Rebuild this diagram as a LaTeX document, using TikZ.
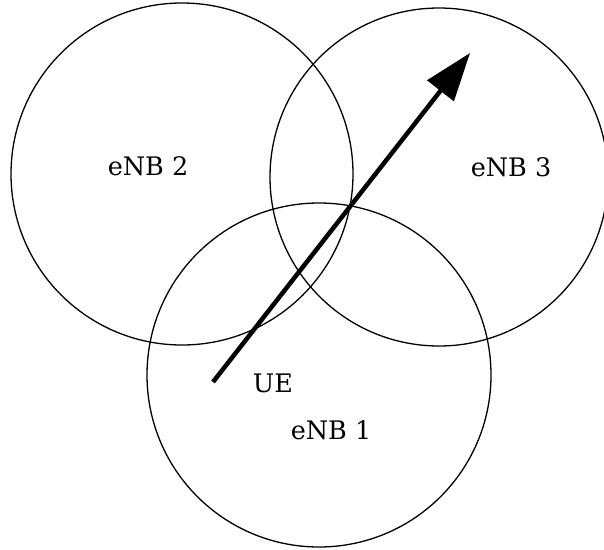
\documentclass[tikz,border=0pt]{standalone}
\usepackage{fontspec}
\setmainfont{DejaVu Serif}
\usetikzlibrary{arrows.meta,positioning}

\begin{document}
\begin{tikzpicture}[
  x=1pt, y=-1pt,
  cell/.style={draw, circle, inner sep=0pt, line width=1.3pt},
  lbl/.style={font=\fontsize{25.5}{28}\selectfont, inner sep=0pt},
  move/.style={-{Triangle[length=48pt, width=33pt]}, line width=4.5pt},
]
\useasboundingbox (0,0) rectangle (604,549);

%% cells
\node[cell, minimum size=342pt] (c2) at (182,174) {};
\node[cell, minimum size=338pt] (c3) at (439,177) {};
\node[cell, minimum size=344pt] (c1) at (319,375) {};

% cell labels
\node[lbl] (l2) at (148,166) {eNB 2};
\node[lbl] (l3) at (511,167) {eNB 3};
\node[lbl] (l1) at (331,430) {eNB 1};

% terminal and its movement
\coordinate (ue) at (213,382);
\coordinate (dest) at (470,53);
\node[lbl] (lue) at (273,383) {UE};
\draw[move] (ue) -- (dest);

\end{tikzpicture}
\end{document}
